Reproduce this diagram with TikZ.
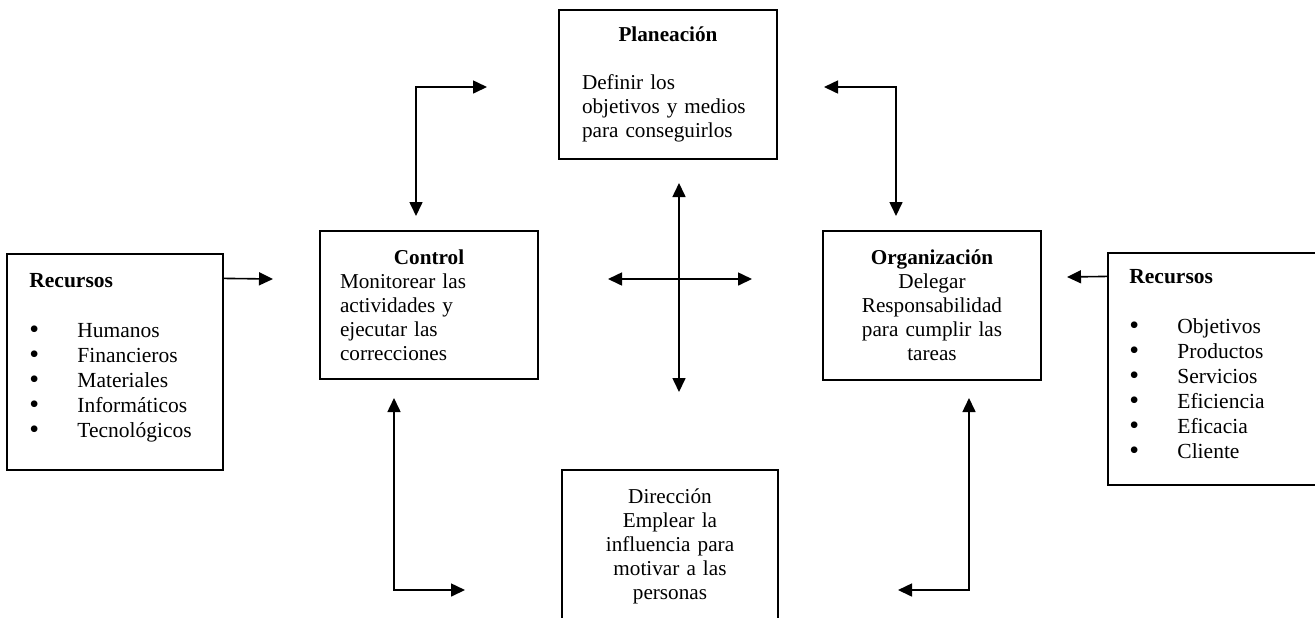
\documentclass[tikz,border=0pt]{standalone}
\usepackage{fontspec}
\setmainfont{Liberation Serif}
\usetikzlibrary{arrows.meta,calc}
\newcommand\bulitem{\makebox[24pt][l]{\smash{\raisebox{-0.5pt}{\scalebox{1.3}{\textbullet}}}}}
\begin{document}
\begin{tikzpicture}[x=0.5pt,y=-0.5pt,
  box/.style={draw, line width=0.6pt, inner sep=0pt, font=\fontsize{10.6pt}{12pt}\selectfont},
  listtxt/.style={inner sep=0pt, text width=100pt, align=left, font=\fontsize{10.75pt}{12.5pt}\selectfont},
  tip/.tip={Triangle[length=7pt,width=6.5pt]},
  arr/.style={line width=0.8pt, -tip},
  arrboth/.style={line width=0.8pt, tip-tip}]
\useasboundingbox (0,0) rectangle (1315,617);

% main boxes
\node[box, minimum width=109pt, minimum height=74.5pt, text width=86pt, align=left] (plan) at (668,84.5)
  {\centerline{\textbf{Planeación}}\par\vspace{12pt}Definir los\\ objetivos y medios\\ para conseguirlos};
\node[box, minimum width=109pt, minimum height=74pt, text width=89pt, align=left] (ctrl) at (429,305)
  {\centerline{\textbf{Control}}\par Monitorear las\\ actividades y\\ ejecutar las\\ correcciones};
\node[box, minimum width=109pt, minimum height=74.5pt, text width=100pt, align=center] (org) at (932,305.5)
  {\textbf{Organización}\\ Delegar\\ Responsabilidad\\ para cumplir las\\ tareas};
\node[box, minimum width=108pt, minimum height=76pt, text width=100pt, align=center] (dir) at (670,546)
  {Dirección\\ Emplear la\\ influencia para\\ motivar a las\\ personas};

% resource boxes
\node[box, minimum width=108pt, minimum height=108pt] (recl) at (115,362) {};
\node[box, minimum width=111pt, minimum height=116pt] (recr) at (1219,369) {};
\node[listtxt, anchor=base west] (recltxt) at (29,287)
  {\textbf{Recursos}\\[12.5pt]\bulitem Humanos\\ \bulitem Financieros\\ \bulitem Materiales\\ \bulitem Informáticos\\ \bulitem Tecnológicos};
\node[listtxt, anchor=base west] (recrtxt) at (1129,283)
  {\textbf{Recursos}\\[12.5pt]\bulitem Objetivos\\ \bulitem Productos\\ \bulitem Servicios\\ \bulitem Eficiencia\\ \bulitem Eficacia\\ \bulitem Cliente};

% arrow end points
\coordinate (a1) at (487,87);   \coordinate (a2) at (416,216);
\coordinate (b1) at (824,87);   \coordinate (b2) at (896,216);
\coordinate (c1) at (394,398);  \coordinate (c2) at (465,590);
\coordinate (d1) at (969,398);  \coordinate (d2) at (898,590);
\coordinate (v1) at (679,183);  \coordinate (v2) at (679,392);
\coordinate (h1) at (608,279);  \coordinate (h2) at (752,279);
\coordinate (l2) at (273,279);
\coordinate (r2) at (1067,277);

\draw[arrboth] (a1) -| (a2);
\draw[arrboth] (b1) -| (b2);
\draw[arrboth] (c1) |- (c2);
\draw[arrboth] (d1) |- (d2);
\draw[arrboth] (v1) -- (v2);
\draw[arrboth] (h1) -- (h2);
\draw[arr] ($(recl.north east)+(0,25)$) -- (l2);
\draw[arr] ($(recr.north west)+(0,24)$) -- (r2);
\end{tikzpicture}
\end{document}
